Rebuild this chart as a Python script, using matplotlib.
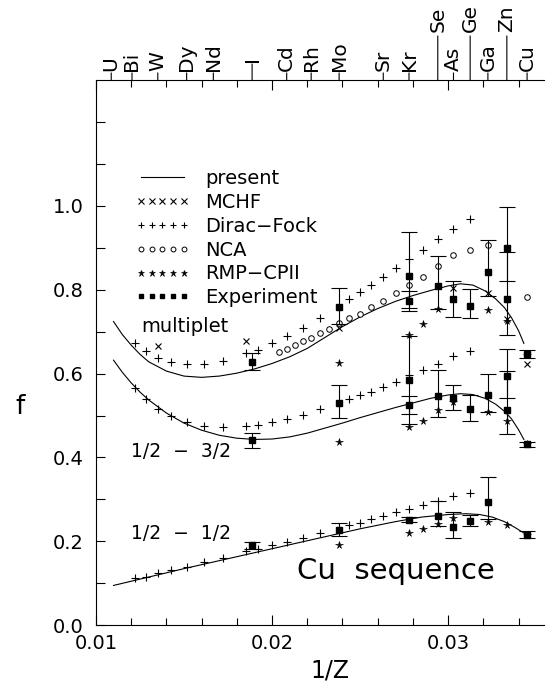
import numpy as np
import matplotlib
matplotlib.use('Agg')
import matplotlib.pyplot as plt
from matplotlib.lines import Line2D
from matplotlib.ticker import MultipleLocator, FixedLocator

# element labels on the top axis (positions are 1/Z)
elem_names = ['U', 'Bi', 'W', 'Dy', 'Nd', 'I', 'Cd', 'Rh', 'Mo', 'Sr', 'Kr',
              'Se', 'As', 'Ge', 'Ga', 'Zn', 'Cu']
elem_z = [92, 83, 74, 66, 60, 53, 48, 45, 42, 38, 36, 34, 33, 32, 31, 30, 29]

# "present" theory curves
cur_x = [0.0110, 0.0115, 0.0120, 0.0125, 0.0130, 0.0140, 0.0150, 0.0160, 0.0170,
         0.0180, 0.0190, 0.0200, 0.0210, 0.0220, 0.0230, 0.0240, 0.0250, 0.0260,
         0.0270, 0.0280, 0.0290, 0.0300, 0.0307, 0.0314, 0.0321, 0.0327, 0.0332,
         0.0336, 0.0340, 0.0343]
cur_mult = [0.724, 0.693, 0.668, 0.646, 0.628, 0.606, 0.594, 0.591, 0.594, 0.601,
            0.611, 0.624, 0.640, 0.660, 0.686, 0.712, 0.735, 0.755, 0.772, 0.786,
            0.798, 0.809, 0.814, 0.811, 0.797, 0.778, 0.757, 0.733, 0.702, 0.672]
cur_32 = [0.632, 0.603, 0.578, 0.556, 0.537, 0.506, 0.482, 0.465, 0.453, 0.446,
          0.443, 0.444, 0.449, 0.458, 0.470, 0.482, 0.495, 0.507, 0.519, 0.530,
          0.541, 0.549, 0.552, 0.550, 0.541, 0.527, 0.510, 0.492, 0.466, 0.443]
cur11_x = [0.0110, 0.0130, 0.0150, 0.0170, 0.0190, 0.0210, 0.0230, 0.0250, 0.0270,
           0.0285, 0.0300, 0.0310, 0.0318, 0.0325, 0.0332, 0.0338, 0.0343]
cur_11 = [0.095, 0.115, 0.135, 0.154, 0.173, 0.192, 0.211, 0.230, 0.247,
          0.258, 0.264, 0.266, 0.264, 0.258, 0.247, 0.233, 0.220]

# Dirac-Fock
df_z = [82, 78, 74, 70, 66, 62, 58, 54, 52, 50, 48, 46, 44, 41, 40, 39, 38, 37,
        36, 35, 34, 33, 32]
df_mult = [0.674, 0.653, 0.637, 0.628, 0.622, 0.622, 0.630, 0.649, 0.657, 0.672,
           0.689, 0.708, 0.733, 0.777, 0.794, 0.812, 0.830, 0.851, 0.873, 0.895,
           0.920, 0.945, 0.968]
df_32 = [0.566, 0.539, 0.516, 0.498, 0.484, 0.476, 0.473, 0.475, 0.478, 0.484,
         0.492, 0.502, 0.515, 0.539, 0.549, 0.557, 0.569, 0.581, 0.596, 0.609,
         0.624, 0.641, 0.655]
df_11 = [0.113, 0.116, 0.124, 0.132, 0.140, 0.150, 0.161, 0.176, 0.182, 0.191,
         0.199, 0.208, 0.220, 0.239, 0.245, 0.253, 0.261, 0.270, 0.278, 0.287,
         0.296, 0.307, 0.316]

# MCHF (multiplet)
mchf_z = [74, 54, 42, 33, 31, 30, 29]
mchf_f = [0.666, 0.678, 0.708, 0.803, 0.792, 0.731, 0.623]

# NCA (multiplet)
nca_z = [49, 48, 47, 46, 45, 44, 43, 42, 41, 40, 39, 38, 37, 36, 35, 34, 33, 32, 31, 29]
nca_f = [0.651, 0.659, 0.668, 0.677, 0.686, 0.696, 0.706, 0.721, 0.733, 0.743,
         0.758, 0.772, 0.791, 0.811, 0.831, 0.856, 0.882, 0.895, 0.907, 0.782]

# RMP-CPII
rmp_z = [42, 36, 35, 34, 33, 31, 30, 29]
rmp_mult = [0.626, 0.693, 0.718, 0.755, None, 0.751, 0.726, 0.645]
rmp_32 = [0.438, 0.473, 0.488, 0.512, 0.532, 0.508, 0.488, 0.431]
rmp_11 = [0.191, 0.220, 0.230, 0.242, 0.255, 0.247, 0.238, 0.216]

# Experiment: value, lower and upper end of error bar
exp_mult_z = [53, 42, 36, 36, 34, 33, 32, 31, 30, 30, 29]
exp_mult_f = [0.628, 0.758, 0.832, 0.772, 0.809, 0.778, 0.761, 0.843, 0.900, 0.778, 0.647]
exp_mult_lo = [0.609, 0.718, 0.750, 0.757, 0.755, 0.735, 0.733, 0.784, 0.821, 0.693, 0.636]
exp_mult_hi = [0.649, 0.804, 0.938, 0.797, 0.880, 0.821, 0.801, 0.918, 0.997, 0.889, 0.657]

exp_32_z = [53, 42, 36, 36, 34, 33, 32, 31, 30, 30, 29]
exp_32_f = [0.441, 0.529, 0.584, 0.524, 0.547, 0.542, 0.515, 0.549, 0.595, 0.512, 0.431]
exp_32_lo = [0.422, 0.493, 0.479, 0.503, 0.497, 0.512, 0.488, 0.508, 0.542, 0.456, 0.426]
exp_32_hi = [0.459, 0.573, 0.689, 0.546, 0.608, 0.573, 0.549, 0.598, 0.659, 0.605, 0.438]

exp_11_z = [53, 42, 36, 34, 33, 32, 31, 29]
exp_11_f = [0.191, 0.228, 0.252, 0.261, 0.235, 0.248, 0.295, 0.216]
exp_11_lo = [0.182, 0.214, 0.247, 0.236, 0.208, 0.236, 0.253, 0.208]
exp_11_hi = [0.199, 0.243, 0.257, 0.296, 0.270, 0.264, 0.353, 0.224]


def inv(z):
    return 1.0 / np.array(z, dtype=float)


fig = plt.figure(figsize=(5.45, 6.86), dpi=100)
ax = fig.add_axes([0.176, 0.0885, 0.824, 0.795])
ax.set_xlim(0.01, 0.0355)
ax.set_ylim(0.0, 1.3)

lw = 0.8
# present curves
for cx, cy in [(cur_x, cur_mult), (cur_x, cur_32), (cur11_x, cur_11)]:
    ax.plot(cx, cy, color='black', lw=lw)

# Dirac-Fock
for vals in [df_mult, df_32, df_11]:
    ax.plot(inv(df_z), vals, ls='none', marker='+', ms=6, mew=0.8, color='black')

ax.plot(inv(mchf_z), mchf_f, ls='none', marker='x', ms=5, mew=0.8, color='black')
ax.plot(inv(nca_z), nca_f, ls='none', marker='o', ms=4, mew=0.7,
        mfc='white', mec='black')

for vals in [rmp_mult, rmp_32, rmp_11]:
    zz = [z for z, v in zip(rmp_z, vals) if v is not None]
    vv = [v for v in vals if v is not None]
    ax.plot(inv(zz), vv, ls='none', marker='*', ms=5.5, mew=0.4, color='black')

for ez, ef, elo, ehi in [(exp_mult_z, exp_mult_f, exp_mult_lo, exp_mult_hi),
                         (exp_32_z, exp_32_f, exp_32_lo, exp_32_hi),
                         (exp_11_z, exp_11_f, exp_11_lo, exp_11_hi)]:
    ef = np.array(ef)
    yerr = [ef - np.array(elo), np.array(ehi) - ef]
    ax.errorbar(inv(ez), ef, yerr=yerr, fmt='s', ms=3.8, color='black',
                ecolor='black', elinewidth=0.8, capsize=6, capthick=0.8)

# labels inside plot
ax.text(0.01255, 0.712, 'multiplet', fontsize=14, va='center', ha='left')
ax.text(0.01199, 0.414, '1/2  \u2212  3/2', fontsize=13.5, va='center', ha='left')
ax.text(0.01199, 0.218, '1/2  \u2212  1/2', fontsize=13.5, va='center', ha='left')
ax.text(0.0214, 0.13, 'Cu  sequence', fontsize=21, va='center', ha='left')

# legend
handles = [
    Line2D([0], [0], color='black', lw=lw),
    Line2D([0], [0], ls='none', marker='x', ms=4, mew=0.8, color='black'),
    Line2D([0], [0], ls='none', marker='+', ms=5, mew=0.8, color='black'),
    Line2D([0], [0], ls='none', marker='o', ms=3.5, mew=0.7, mfc='white', mec='black'),
    Line2D([0], [0], ls='none', marker='*', ms=5, mew=0.4, color='black'),
    Line2D([0], [0], ls='none', marker='s', ms=3.5, color='black'),
]
labels = ['present', 'MCHF', 'Dirac\u2212Fock', 'NCA', 'RMP\u2212CPII', 'Experiment']
leg = ax.legend(handles, labels, loc='upper left', bbox_to_anchor=(0.07, 0.851),
                numpoints=5, frameon=False, fontsize=14, handlelength=2.8,
                handletextpad=0.8, labelspacing=0.25, borderaxespad=0)

# axis ticks
ax.xaxis.set_major_locator(MultipleLocator(0.01))
ax.xaxis.set_minor_locator(MultipleLocator(0.002))
ax.yaxis.set_major_locator(FixedLocator([0.0, 0.2, 0.4, 0.6, 0.8, 1.0]))
ax.yaxis.set_minor_locator(FixedLocator([0.1, 0.3, 0.5, 0.7, 0.9, 1.1, 1.2]))
ax.tick_params(axis='x', which='both', direction='in', top=True, bottom=True,
               width=0.8, labelsize=14, pad=6)
ax.tick_params(axis='x', which='major', length=7)
ax.tick_params(axis='x', which='minor', length=5)
ax.tick_params(axis='y', which='both', direction='in', left=True, right=False,
               width=0.8, length=6.5, labelsize=14, pad=9)
ax.xaxis.set_major_formatter(plt.FuncFormatter(lambda v, p: '%.2f' % v))
ax.yaxis.set_major_formatter(plt.FuncFormatter(lambda v, p: '%.1f' % v))
ax.spines['right'].set_visible(False)
for s in ['left', 'bottom', 'top']:
    ax.spines[s].set_linewidth(0.8)

ax.set_xlabel('1/Z', fontsize=17)
ax.xaxis.set_label_coords(0.52, -0.06)
ax.set_ylabel('f', fontsize=19, rotation=0)
ax.yaxis.set_label_coords(-0.17, 0.377)

# top element axis
trans = ax.get_xaxis_transform()
long_ticks = {'Se': 44, 'Ge': 44, 'Zn': 44, 'I': 16}
for name, z in zip(elem_names, elem_z):
    x = 1.0 / z
    tl = long_ticks.get(name, 7)
    ax.annotate('', xy=(x, 1.0), xycoords=trans, xytext=(0, tl),
                textcoords='offset pixels',
                arrowprops=dict(arrowstyle='-', lw=0.8, color='black',
                                shrinkA=0, shrinkB=0))
    gap = 4 if tl > 20 else 2
    ax.annotate(name, xy=(x, 1.0), xycoords=trans, xytext=(0, tl + gap),
                textcoords='offset pixels', rotation=90, ha='center',
                va='bottom', fontsize=14.5)

fig.savefig('out.png', dpi=100)
